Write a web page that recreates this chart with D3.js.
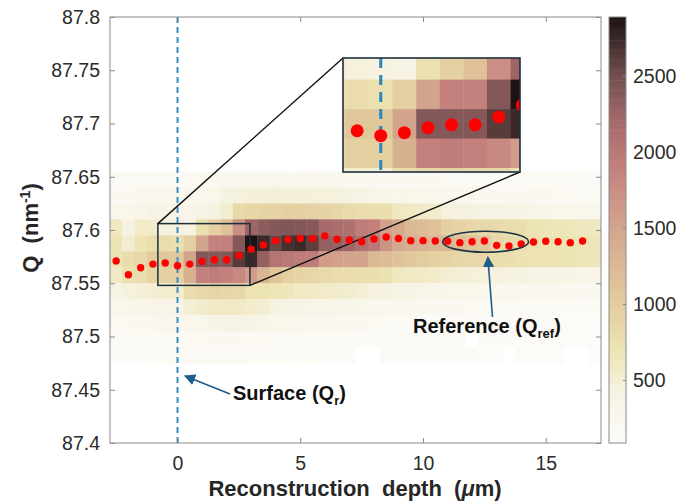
<!DOCTYPE html>
<html>
<head>
<meta charset="utf-8">
<script src="https://cdn.jsdelivr.net/npm/d3@7"></script>
<style>
  body { margin: 0; background: #fff; }
  text { font-family: "Liberation Sans", Arial, sans-serif; }
</style>
</head>
<body>
<svg id="drawing_region" width="690" height="503"></svg>
<script>
// depth columns of the heatmap (um) and row centres (nm^-1)
const depthCols = [-2.5,-2,-1.5,-1,-0.5,0,0.5,1,1.5,2,2.5,3,3.5,4,4.5,5,5.5,6,6.5,7,
                   7.5,8,8.5,9,9.5,10,10.5,11,11.5,12,12.5,13,13.5,14,14.5,15,15.5,16,16.5,17];
const qRows = [87.6475,87.6325,87.6175,87.6025,87.5875,87.5725,87.5575,87.5425,87.5275,87.5125,87.4975,87.4825];

// intensity per row (top to bottom), one value per depth column
const row0  = [150,150,160,170,160,170,180,200,200,250,260,260,270,260,250,240,240,230,230,220,220,210,210,200,200,190,190,170,170,160,160,150,150,150,140,140,130,130,130,120];
const row1  = [200,210,230,250,240,240,260,280,300,420,450,460,470,480,480,470,460,450,440,420,400,330,320,300,300,290,280,250,240,230,220,210,200,200,190,190,180,180,170,170];
const row2  = [300,300,320,400,340,350,350,380,420,520,820,880,900,900,950,950,920,900,880,820,800,780,760,620,600,560,520,450,430,420,400,400,380,370,350,320,300,300,290,280];
const row3  = [620,420,560,560,450,430,400,750,950,1150,1750,2250,2350,2400,2420,2400,2380,2200,2150,2100,1950,1900,1550,1450,1250,1200,1150,950,900,880,850,820,800,780,700,680,660,650,640,620];
const row4  = [700,520,700,760,800,750,950,1500,1900,1900,2400,2880,2750,2550,2700,2750,2600,2300,2280,2250,2100,2000,1700,1450,1400,1350,1300,1300,1150,1100,1050,850,820,800,750,720,700,700,680,660];
const row5  = [700,800,850,1000,1050,1050,1500,2400,2400,2400,2620,2750,2300,2050,2000,1950,1950,1600,1550,1500,1500,1250,1200,1150,1050,1000,950,900,880,850,850,780,760,740,720,720,700,700,680,660];
const row6  = [600,750,800,900,950,950,1350,1900,1950,1900,1800,1600,1300,1100,950,900,880,820,800,800,780,760,740,620,600,580,560,500,480,460,450,440,430,420,400,400,380,370,360,350];
const row7  = [400,450,480,500,520,520,800,850,900,880,850,720,700,680,650,600,580,560,540,520,500,450,420,400,380,360,350,300,300,290,280,270,260,250,250,240,230,220,210,200];
const row8  = [280,300,320,330,340,350,500,550,600,600,580,550,500,420,400,380,360,340,330,320,300,260,250,240,230,220,210,200,190,180,170,170,160,160,150,150,140,140,130,130];
const row9  = [180,200,220,240,260,260,280,300,380,400,400,380,350,300,280,260,250,240,230,220,210,180,170,160,150,150,140,140,130,130,120,120,120,110,110,110,100,100,100,100];
const row10 = [130,140,150,160,170,170,180,180,190,190,190,180,180,170,170,160,160,150,150,140,140,140,130,130,130,120,120,120,120,60,110,110,110,100,100,100,100,100,100,100];
const row11 = [110,120,130,140,140,150,150,150,150,150,150,140,140,140,130,130,130,130,120,120,60,60,120,110,110,110,110,110,110,110,100,100,60,100,100,100,100,60,60,100];
const heatRows = [row0,row1,row2,row3,row4,row5,row6,row7,row8,row9,row10,row11];

// fitted peak position
const peakDepth = [-2.5,-2,-1.5,-1,-0.5,0,0.5,1,1.5,2,2.5,3,3.5,4,4.5,5,5.5,6,6.5,7,
                   7.5,8,8.5,9,9.5,10,10.5,11,11.5,12,12.5,13,13.5,14,14.5,15,15.5,16,16.5];
const peakQ = [87.571,87.558,87.5645,87.568,87.569,87.5665,87.568,87.5705,87.572,87.572,
               87.576,87.582,87.586,87.590,87.591,87.592,87.592,87.5945,87.5913,87.5906,
               87.589,87.5915,87.5934,87.592,87.590,87.590,87.5897,87.5894,87.5881,87.589,
               87.5897,87.5856,87.585,87.5869,87.5887,87.5894,87.589,87.5881,87.5897];

const yTicks = [87.4,87.45,87.5,87.55,87.6,87.65,87.7,87.75,87.8];
const yTickLabels = ["87.4","87.45","87.5","87.55","87.6","87.65","87.7","87.75","87.8"];
const xTicks = [0,5,10,15];
const cbTicks = [500,1000,1500,2000,2500];

// colormap stops
const cmapVals = [86,400,700,1000,1300,1600,1900,2200,2500,2888];
const cmapCols = ["#fcfbf8","#f7f3e4","#ede4b3","#e3cc9e","#d9b593","#d09c89","#c3807d","#a56a69","#734f4f","#1c1212"];

const cellW = 0.5, cellH = 0.015;
const zoomX = [-0.8, 2.95], zoomQ = [87.548, 87.606];

const svg = d3.select('#drawing_region');
const font = '"Liberation Sans", Arial, sans-serif';

const margin = {left:110, right:601, top:17, bottom:443};
const x = d3.scaleLinear().domain([-2.75, 17.25]).range([margin.left, margin.right]);
const y = d3.scaleLinear().domain([87.4, 87.8]).range([margin.bottom, margin.top]);
const color = d3.scaleLinear().domain(cmapVals).range(cmapCols).clamp(true);
const fillOf = v => v < cmapVals[0] ? "#ffffff" : color(v);

const cells = [];
heatRows.forEach((row, r) => row.forEach((v, c) => cells.push({q: qRows[r], d: depthCols[c], v})));

function drawHeat(g, sx, sy) {
    g.selectAll("rect.cell")
        .data(cells)
        .join("rect")
        .attr("class", "cell")
        .attr("x", d => sx(d.d - cellW/2))
        .attr("y", d => sy(d.q + cellH/2))
        .attr("width", d => sx(d.d + cellW/2) - sx(d.d - cellW/2) + 0.4)
        .attr("height", d => sy(d.q - cellH/2) - sy(d.q + cellH/2) + 0.4)
        .attr("fill", d => fillOf(d.v));
}

// main plot
const main = svg.append("g");
svg.append("clipPath").attr("id", "mainClip").append("rect")
    .attr("x", margin.left).attr("y", margin.top)
    .attr("width", margin.right - margin.left).attr("height", margin.bottom - margin.top);
const heatG = main.append("g").attr("clip-path", "url(#mainClip)");
drawHeat(heatG, x, y);

main.append("line")
    .attr("x1", x(0)).attr("x2", x(0)).attr("y1", margin.top).attr("y2", margin.bottom)
    .attr("stroke", "#3a8fc2").attr("stroke-width", 2).attr("stroke-dasharray", "6,4");

// zoom box and connectors
const bx0 = x(zoomX[0]), bx1 = x(zoomX[1]), by0 = y(zoomQ[1]), by1 = y(zoomQ[0]);
const inset = {x0: 343, y0: 58, x1: 520, y1: 172};
main.append("rect")
    .attr("x", bx0).attr("y", by0).attr("width", bx1 - bx0).attr("height", by1 - by0)
    .attr("fill", "none").attr("stroke", "#1d2f3c").attr("stroke-width", 1.5);
main.append("line").attr("x1", bx0).attr("y1", by0).attr("x2", inset.x0).attr("y2", inset.y0)
    .attr("stroke", "#111").attr("stroke-width", 1.4);
main.append("line").attr("x1", bx1).attr("y1", by1).attr("x2", inset.x1).attr("y2", inset.y1)
    .attr("stroke", "#111").attr("stroke-width", 1.4);

main.selectAll("circle.pk")
    .data(peakDepth.map((d, i) => ({d, q: peakQ[i]})))
    .join("circle")
    .attr("class", "pk")
    .attr("cx", d => x(d.d)).attr("cy", d => y(d.q)).attr("r", 3.7)
    .attr("fill", "#ff0000");

// inset
const xi = d3.scaleLinear().domain(zoomX).range([inset.x0, inset.x1]);
const yi = d3.scaleLinear().domain(zoomQ).range([inset.y1, inset.y0]);
svg.append("clipPath").attr("id", "insetClip").append("rect")
    .attr("x", inset.x0).attr("y", inset.y0)
    .attr("width", inset.x1 - inset.x0).attr("height", inset.y1 - inset.y0);
const insetG = svg.append("g").attr("clip-path", "url(#insetClip)");
drawHeat(insetG.append("g"), xi, yi);
insetG.append("line")
    .attr("x1", xi(0)).attr("x2", xi(0)).attr("y1", inset.y0).attr("y2", inset.y1)
    .attr("stroke", "#2a86bd").attr("stroke-width", 3).attr("stroke-dasharray", "10,7");
insetG.selectAll("circle")
    .data(peakDepth.map((d, i) => ({d, q: peakQ[i]})))
    .join("circle")
    .attr("cx", d => xi(d.d)).attr("cy", d => yi(d.q)).attr("r", 6.5)
    .attr("fill", "#ff0000");
svg.append("rect")
    .attr("x", inset.x0).attr("y", inset.y0)
    .attr("width", inset.x1 - inset.x0).attr("height", inset.y1 - inset.y0)
    .attr("fill", "none").attr("stroke", "#1d2f3c").attr("stroke-width", 1.6);

// frame and axes
const axisCol = "#8a8a8a", labCol = "#2b2b2b";
svg.append("rect")
    .attr("x", margin.left).attr("y", margin.top)
    .attr("width", margin.right - margin.left).attr("height", margin.bottom - margin.top)
    .attr("fill", "none").attr("stroke", axisCol).attr("stroke-width", 1);

function styleAxis(g) {
    g.select(".domain").remove();
    g.selectAll(".tick line").attr("stroke", axisCol);
    g.selectAll(".tick text").attr("fill", labCol).style("font-size", "19.5px").style("font-family", font);
}
svg.append("g").attr("transform", `translate(${margin.left},0)`)
    .call(d3.axisLeft(y).tickValues(yTicks).tickFormat((d, i) => yTickLabels[i]).tickSize(-5).tickPadding(10))
    .call(styleAxis);
svg.append("g").attr("transform", `translate(${margin.right},0)`)
    .call(d3.axisRight(y).tickValues(yTicks).tickFormat("").tickSize(-5))
    .call(styleAxis);
svg.append("g").attr("transform", `translate(0,${margin.bottom})`)
    .call(d3.axisBottom(x).tickValues(xTicks).tickFormat(d3.format("d")).tickSize(-5).tickPadding(13))
    .call(styleAxis);
svg.append("g").attr("transform", `translate(0,${margin.top})`)
    .call(d3.axisTop(x).tickValues(xTicks).tickFormat("").tickSize(-5))
    .call(styleAxis);

// colorbar
const cb = {x: 609, w: 17};
const cbScale = d3.scaleLinear().domain([86, 2888]).range([margin.bottom, margin.top]);
const levels = d3.range(128).map(i => 86 + (2888 - 86) * (i + 0.5) / 128);
svg.append("g").selectAll("rect")
    .data(levels)
    .join("rect")
    .attr("x", cb.x)
    .attr("y", d => cbScale(d + (2888 - 86) / 256))
    .attr("width", cb.w)
    .attr("height", (margin.bottom - margin.top) / 128 + 0.5)
    .attr("fill", d => color(d));
svg.append("rect")
    .attr("x", cb.x).attr("y", margin.top).attr("width", cb.w).attr("height", margin.bottom - margin.top)
    .attr("fill", "none").attr("stroke", axisCol).attr("stroke-width", 1);
svg.append("g").attr("transform", `translate(${cb.x + cb.w},0)`)
    .call(d3.axisRight(cbScale).tickValues(cbTicks).tickFormat(d3.format("d")).tickSize(-3).tickPadding(7))
    .call(styleAxis);

// annotations
const navy = "#1e5c8a";
const defs = svg.append("defs");
defs.append("marker").attr("id", "head")
    .attr("viewBox", "0 0 10 10").attr("refX", 9).attr("refY", 5)
    .attr("markerWidth", 7).attr("markerHeight", 7).attr("orient", "auto")
    .append("path").attr("d", "M0,0 L10,5 L0,10 z").attr("fill", navy);

svg.append("ellipse")
    .attr("cx", x(12.55)).attr("cy", y(87.589)).attr("rx", 43).attr("ry", 10.5)
    .attr("fill", "none").attr("stroke", "#1b3444").attr("stroke-width", 1.6);

svg.append("line").attr("x1", 492.5).attr("y1", 317).attr("x2", 487.8).attr("y2", 257)
    .attr("stroke", navy).attr("stroke-width", 1.6).attr("marker-end", "url(#head)");
svg.append("line").attr("x1", 230).attr("y1", 394).attr("x2", 185).attr("y2", 376)
    .attr("stroke", navy).attr("stroke-width", 1.6).attr("marker-end", "url(#head)");

const ref = svg.append("text").attr("x", 413).attr("y", 333)
    .attr("font-weight", "bold").style("font-size", "20px").attr("fill", "#111");
ref.append("tspan").text("Reference (Q");
ref.append("tspan").text("ref").style("font-size", "13px").attr("dy", 5);
ref.append("tspan").text(")").attr("dy", -5);

const surf = svg.append("text").attr("x", 233).attr("y", 400)
    .attr("font-weight", "bold").style("font-size", "20px").attr("fill", "#111");
surf.append("tspan").text("Surface (Q");
surf.append("tspan").text("r").style("font-size", "13px").attr("dy", 5);
surf.append("tspan").text(")").attr("dy", -5);

// axis titles
const xl = svg.append("text")
    .attr("x", 355).attr("y", 496).attr("text-anchor", "middle")
    .attr("font-weight", "bold").style("font-size", "22px").attr("fill", "#262626")
    .attr("xml:space", "preserve");
xl.append("tspan").text("Reconstruction  depth  (");
xl.append("tspan").text("\u03bc").style("font-style", "italic");
xl.append("tspan").text("m)");

const ql = svg.append("text")
    .attr("transform", "translate(38,228) rotate(-90)").attr("text-anchor", "middle")
    .attr("font-weight", "bold").style("font-size", "22px").attr("fill", "#262626")
    .attr("xml:space", "preserve");
ql.append("tspan").text("Q  (nm");
ql.append("tspan").text("-1").style("font-size", "14px").attr("dy", -8);
ql.append("tspan").text(")").attr("dy", 8);
</script>
</body>
</html>
